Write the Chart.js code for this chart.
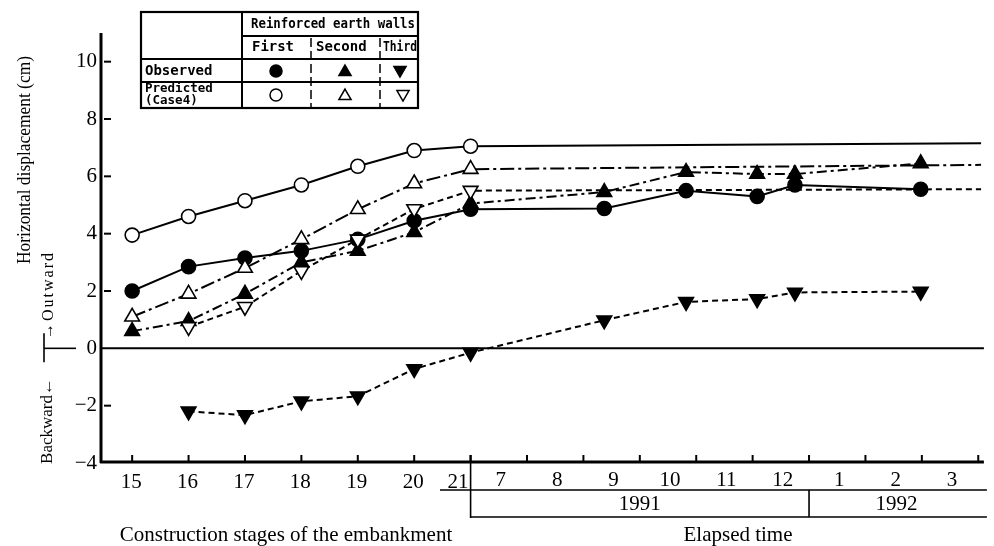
<!DOCTYPE html>
<html><head><meta charset="utf-8">
<script src="https://cdn.jsdelivr.net/npm/chart.js@4/dist/chart.umd.min.js"></script>
<style>html,body{margin:0;padding:0;background:#fff}canvas{display:block}</style>
</head><body>
<canvas id="c" width="994" height="546"></canvas>
<script>
// ---- data ----
const stageX = [15, 16, 17, 18, 19, 20, 21];
const stageLabels = ['15', '16', '17', '18', '19', '20', '21'];
const monthBounds = [21, 22, 23, 24, 25, 26, 27, 28, 29, 30];
const monthLabels = ['7', '8', '9', '10', '11', '12', '1', '2', '3'];
const yearLabels = ['1991', '1992'];
const yearBounds = [21, 27, 30.1];
const yTicks = [-4, -2, 0, 2, 4, 6, 8, 10];

const obsX = [15, 16, 17, 18, 19, 20, 21, 23.37, 24.82, 26.08, 26.75, 28.98];
const obsFirst = [2.0, 2.85, 3.15, 3.4, 3.8, 4.45, 4.85, 4.88, 5.5, 5.3, 5.7, 5.55];
const obsSecond = [0.6, 0.95, 1.9, 3.0, 3.4, 4.05, 5.05, 5.45, 6.15, 6.08, 6.08, 6.45];
const obsThird = [null, -2.2, -2.33, -1.85, -1.67, -0.72, -0.15, 0.98, 1.62, 1.72, 1.95, 1.98];

const predX = [15, 16, 17, 18, 19, 20, 21, 30.05]; // last = line continuation, no marker
const predFirst = [3.95, 4.6, 5.15, 5.7, 6.35, 6.9, 7.05, 7.15];
const predSecond = [1.1, 1.9, 2.8, 3.8, 4.85, 5.75, 6.25, 6.4];
const predThird = [null, 0.75, 1.45, 2.7, 3.8, 4.86, 5.5, 5.55];

function pts(xs, ys) {
  const out = [];
  xs.forEach((x, i) => { if (ys[i] !== null) out.push({x: x, y: ys[i], tail: xs === predX && i === xs.length - 1}); });
  return out;
}

const SERIF = '"Liberation Serif", "DejaVu Serif", serif';
const MONO = '"DejaVu Sans Mono", "Liberation Mono", monospace';

function ds(label, data, style, fill, dash, rot) {
  return {
    label, data,
    borderColor: '#000', borderWidth: 2, borderDash: dash,
    pointStyle: style, pointRotation: rot || 0,
    pointBackgroundColor: fill, pointBorderColor: '#000', pointBorderWidth: 1.6,
    pointRadius: c => (c.raw && c.raw.tail) ? 0 : (style === 'circle' ? 7 : 8.5),
    tension: 0, fill: false, spanGaps: true
  };
}

const deco = {
  id: 'deco',
  beforeDatasetsDraw(chart) {
    const {ctx, chartArea: a, scales: {y}} = chart;
    ctx.save();
    ctx.strokeStyle = '#000'; ctx.lineWidth = 2;
    const y0 = y.getPixelForValue(0);
    ctx.beginPath(); ctx.moveTo(a.left, y0); ctx.lineTo(a.right, y0); ctx.stroke();
    ctx.restore();
  },
  afterDraw(chart) {
    const {ctx, chartArea: a, scales: {x, y}} = chart;
    const L = (x1, y1, x2, y2) => { ctx.beginPath(); ctx.moveTo(x1, y1); ctx.lineTo(x2, y2); ctx.stroke(); };
    ctx.save();
    ctx.strokeStyle = '#000'; ctx.fillStyle = '#000';
    // axes
    ctx.lineWidth = 3;
    L(a.left + 1, a.top, a.left + 1, a.bottom);
    L(a.left, a.bottom - 1, a.right, a.bottom - 1);
    // y inner ticks
    ctx.lineWidth = 2;
    yTicks.forEach(v => { if (v === 0 || v === -4) return; const py = y.getPixelForValue(v); L(a.left + 4, py, a.left + 11, py); });
    // x ticks
    stageX.concat(monthBounds).forEach(v => { const px = x.getPixelForValue(v); L(px, a.bottom - 2, px, a.bottom - 8); });
    // x labels
    ctx.font = '21px ' + SERIF; ctx.textBaseline = 'middle';
    stageX.forEach((v, i) => {
      const px = x.getPixelForValue(v);
      if (i === stageX.length - 1) { ctx.textAlign = 'right'; ctx.fillText(stageLabels[i], px - 2, 482); }
      else { ctx.textAlign = 'center'; ctx.fillText(stageLabels[i], px - 1, 482); }
    });
    ctx.textAlign = 'center';
    monthLabels.forEach((t, i) => {
      const px = (x.getPixelForValue(monthBounds[i]) + x.getPixelForValue(monthBounds[i + 1])) / 2;
      ctx.fillText(t, px + 2, 480);
    });
    yearLabels.forEach((t, i) => {
      const px = (x.getPixelForValue(yearBounds[i]) + x.getPixelForValue(yearBounds[i + 1])) / 2;
      ctx.fillText(t, px, 504);
    });
    // bracket lines
    ctx.lineWidth = 1.6;
    const x21 = x.getPixelForValue(21), x27 = x.getPixelForValue(27);
    L(440, 490, a.right + 3, 490);
    L(x21, a.bottom - 2, x21, 518);
    L(x21, 517, a.right + 3, 517);
    L(x27, 490, x27, 517);
    // titles
    ctx.fillText('Construction stages of the embankment', 286, 535);
    ctx.fillText('Elapsed time', 738, 535);
    // y title
    ctx.save(); ctx.translate(25, 160); ctx.rotate(-Math.PI / 2);
    ctx.font = '18px ' + SERIF;
    ctx.fillText('Horizontal displacement (cm)', 0, 0, 208); ctx.restore();
    ctx.save(); ctx.translate(48, 421); ctx.rotate(-Math.PI / 2);
    ctx.font = '17px ' + SERIF; ctx.fillText('Backward\u2190', 0, 0, 92); ctx.restore();
    ctx.save(); ctx.translate(49, 295); ctx.rotate(-Math.PI / 2);
    ctx.font = '16px ' + SERIF; ctx.letterSpacing = '2px'; ctx.fillText('\u2192Outward', 0, 0, 92); ctx.restore();
    const y0 = y.getPixelForValue(0);
    ctx.lineWidth = 1.6;
    L(44, y0 - 15, 44, y0 + 14);
    L(44, y0, 76, y0);
    // legend table
    ctx.fillStyle = '#fff'; ctx.fillRect(141, 12, 277, 96); ctx.fillStyle = '#000';
    ctx.lineWidth = 2.2;
    ctx.strokeRect(141, 12, 277, 96);
    ctx.lineWidth = 2;
    L(242, 12, 242, 108);
    L(242, 36, 418, 36);
    L(141, 59, 418, 59);
    L(141, 82, 418, 82);
    ctx.lineWidth = 1.5; ctx.setLineDash([9, 4]);
    L(311, 38, 311, 108); L(380, 38, 380, 108);
    ctx.setLineDash([]);
    ctx.font = 'bold 14px ' + MONO; ctx.textAlign = 'left'; ctx.textBaseline = 'middle';
    ctx.fillText('Reinforced earth walls', 251, 24, 164);
    ctx.fillText('First', 252, 47, 42);
    ctx.fillText('Second', 316, 47, 52);
    ctx.fillText('Third', 383, 47, 34);
    ctx.fillText('Observed', 145, 71, 70);
    ctx.font = 'bold 12.5px ' + MONO;
    ctx.fillText('Predicted', 145, 89, 72);
    ctx.fillText('(Case4)', 145, 101, 56);
    const H = Chart.helpers;
    const mk = (style, rot, fill, px, py, r) => {
      ctx.fillStyle = fill; ctx.strokeStyle = '#000'; ctx.lineWidth = 1.5;
      H.drawPoint(ctx, {pointStyle: style, rotation: rot, radius: r, borderWidth: 1.5}, px, py);
    };
    mk('circle', 0, '#000', 276, 71, 6);
    mk('triangle', 0, '#000', 345, 72, 7);
    mk('triangle', 180, '#000', 400, 70, 7);
    mk('circle', 0, '#fff', 276, 95, 6);
    mk('triangle', 0, '#fff', 345, 96, 7);
    mk('triangle', 180, '#fff', 403, 94, 7);
    ctx.restore();
  }
};

new Chart(document.getElementById('c'), {
  type: 'line',
  data: {
    datasets: [
      ds('Predicted First', pts(predX, predFirst), 'circle', '#fff', []),
      ds('Predicted Second', pts(predX, predSecond), 'triangle', '#fff', [14, 4, 3, 4]),
      ds('Predicted Third', pts(predX, predThird), 'triangle', '#fff', [6, 4], 180),
      ds('Observed Third', pts(obsX, obsThird), 'triangle', '#000', [6, 4], 180),
      ds('Observed Second', pts(obsX, obsSecond), 'triangle', '#000', [10, 4, 3, 4]),
      ds('Observed First', pts(obsX, obsFirst), 'circle', '#000', [])
    ]
  },
  options: {
    responsive: false, animation: false, events: [],
    layout: {padding: {left: 0, top: 33, right: 9, bottom: 83}},
    plugins: {legend: {display: false}, tooltip: {enabled: false}},
    scales: {
      x: {type: 'linear', min: 14.43, max: 30.1, display: false},
      y: {
        type: 'linear', min: -4, max: 11,
        afterFit: s => { s.width = 100; },
        grid: {display: false, drawTicks: false}, border: {display: false},
        ticks: {stepSize: 2, includeBounds: false, color: '#000', padding: 3,
          font: {family: SERIF, size: 21},
          callback: v => yTicks.includes(v) ? (v < 0 ? '\u2212' + Math.abs(v) : String(v)) : ''}
      }
    }
  },
  plugins: [deco]
});
</script>
</body></html>
